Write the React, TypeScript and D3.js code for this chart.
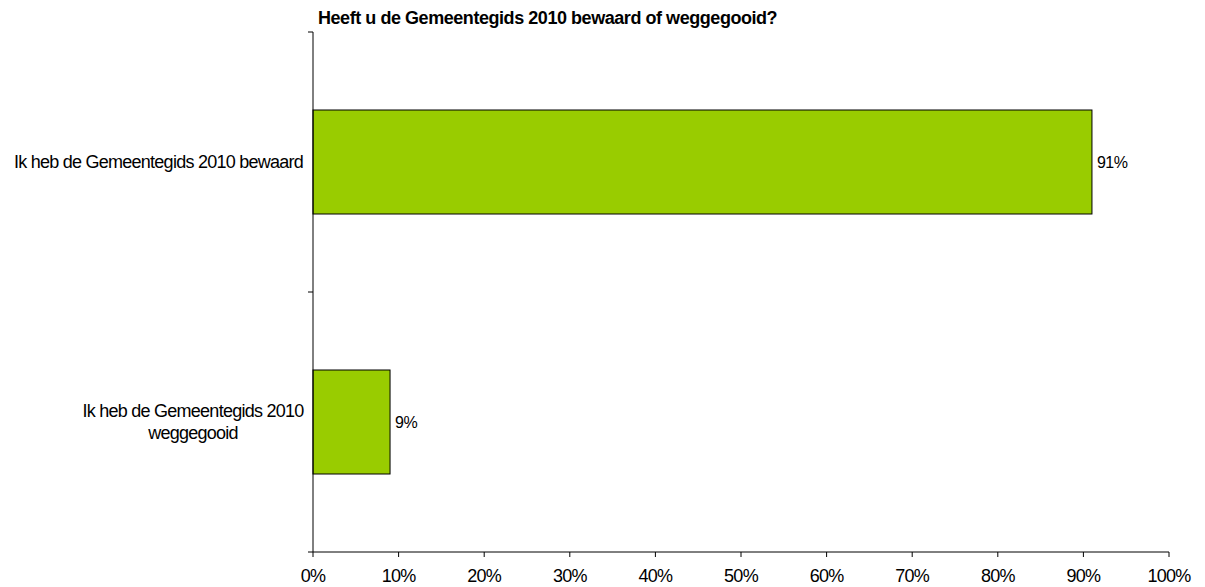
import React from "react";
import * as d3 from "d3";

const categories: string[][] = [
  ["Ik heb de Gemeentegids 2010 bewaard"],
  ["Ik heb de Gemeentegids 2010", "weggegooid"],
];
const values: number[] = [91, 9];
const xTicks: number[] = [0, 10, 20, 30, 40, 50, 60, 70, 80, 90, 100];
const title = "Heeft u de Gemeentegids 2010 bewaard of weggegooid?";

export default function App() {
  const W = 1205, H = 587;
  const left = 313, right = 1169, top = 32, bottom = 552;
  const x = d3.scaleLinear().domain([0, 100]).range([left, right]);
  const y = d3.scaleBand<number>().domain(d3.range(categories.length)).range([top, bottom]).padding(0);
  const bw = y.bandwidth();
  const barH = bw * 0.4;
  const font = "'Liberation Sans', Arial, sans-serif";
  const catBounds = d3.range(categories.length + 1).map((i) => top + i * bw);
  return (
    <svg width={W} height={H} style={{ position: "absolute", left: 0, top: 0 }} fontFamily={font}>
      <rect width={W} height={H} fill="#fff" />
      <text x={318} y={24} fontSize={18} fontWeight="bold" letterSpacing={-0.45}>{title}</text>
      {values.map((v, i) => {
        const cy = (y(i) as number) + bw / 2;
        return (
          <g key={i}>
            <rect x={x(0)} y={cy - barH / 2} width={x(v) - x(0)} height={barH} fill="#99CC00" stroke="#000" strokeWidth={1} />
            <text x={x(v) + 5} y={cy + 6} fontSize={16} letterSpacing={-0.5}>{v}%</text>
            {categories[i].length === 1 ? (
              <text x={303} y={cy + 6} fontSize={18} textAnchor="end" letterSpacing={-0.75}>{categories[i][0]}</text>
            ) : (
              categories[i].map((line, j) => (
                <text key={j} x={193} y={cy - 5 + j * 22} fontSize={18} textAnchor="middle" letterSpacing={-0.75}>{line}</text>
              ))
            )}
          </g>
        );
      })}
      <line x1={left} x2={left} y1={top} y2={bottom} stroke="#000" />
      {catBounds.map((b, i) => (
        <line key={i} x1={left - 5} x2={left} y1={b} y2={b} stroke="#000" />
      ))}
      <line x1={left} x2={right} y1={bottom} y2={bottom} stroke="#000" />
      {xTicks.map((t) => (
        <g key={t}>
          <line x1={x(t)} x2={x(t)} y1={bottom} y2={bottom + 5} stroke="#000" />
          <text x={x(t)} y={bottom + 30} fontSize={18} textAnchor="middle" letterSpacing={-0.75}>{t}%</text>
        </g>
      ))}
    </svg>
  );
}
